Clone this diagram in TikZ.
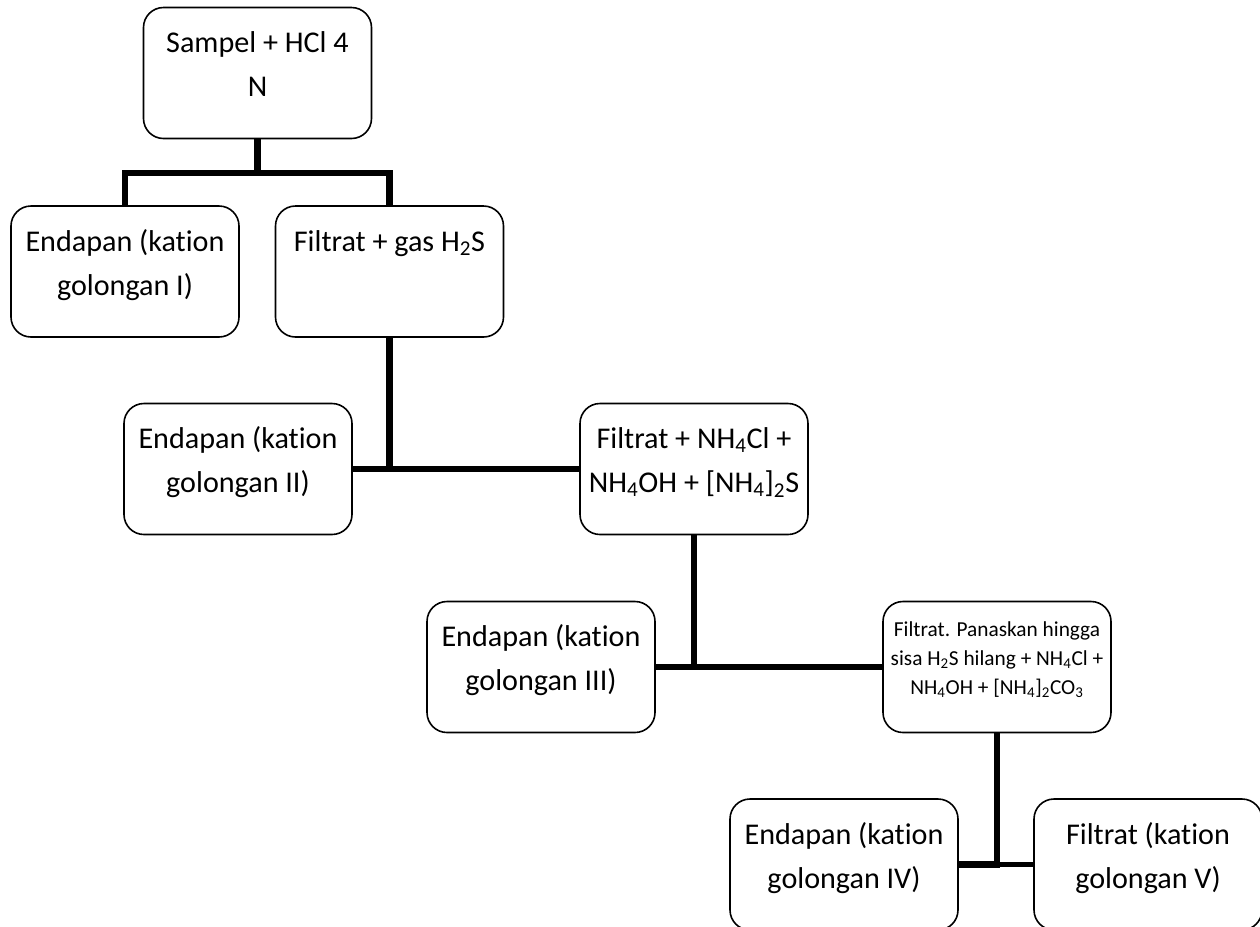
\documentclass[tikz,border=0pt]{standalone}
\usepackage{fontspec}
\setmainfont{Carlito}[Ligatures=NoCommon]
\usetikzlibrary{positioning}
\newcommand\boxtext[2][34pt]{\parbox[c][98.25pt][t]{171pt}{\centering\rule{0pt}{#1}#2}}
\tikzset{
  stagebox/.style={draw, line width=1.2pt, rounded corners=15pt, inner sep=0pt,
    font=\fontsize{22.6}{33}\selectfont},
  smallbox/.style={stagebox, font=\fontsize{16}{21.75}\selectfont},
  link/.style={line width=4.8pt, line join=miter}
}
\begin{document}
\begin{tikzpicture}[x=0.75pt, y=-0.75pt]
    \useasboundingbox (0,0) rectangle (1260,926);
    \clip (0,0) rectangle (1260,926);
    % stages
    \node[stagebox] (sampel) at (257.5,73) {\boxtext[33.5pt]{Sampel + HCl 4\\N}};
    \node[stagebox] (endI) at (125,271.5) {\boxtext{Endapan (kation\\golongan I)}};
    \node[stagebox] (filtH) at (389.5,271.5) {\boxtext{Filtrat + gas H\textsubscript{2}S}};
    \node[stagebox] (endII) at (238,469) {\boxtext{Endapan (kation\\golongan II)}};
    \node[stagebox] (filtNH) at (694,469) {\boxtext{Filtrat + NH\textsubscript{4}Cl +\\NH\textsubscript{4}OH + [NH\textsubscript{4}]\textsubscript{2}S}};
    \node[stagebox] (endIII) at (541,667) {\boxtext{Endapan (kation\\golongan III)}};
    \node[smallbox] (filtCO) at (997,667) {\boxtext[26pt]{Filtrat. Panaskan hingga\\sisa H\textsubscript{2}S hilang + NH\textsubscript{4}Cl +\\NH\textsubscript{4}OH + [NH\textsubscript{4}]\textsubscript{2}CO\textsubscript{3}}};
    \node[stagebox] (endIV) at (844,864.5) {\boxtext{Endapan (kation\\golongan IV)}};
    \node[stagebox] (filtV) at (1148,864.5) {\boxtext{Filtrat (kation\\golongan V)}};
    % connectors
    \coordinate (j1) at (257.5,173);
    \draw[link] (sampel.south) -- (j1);
    \draw[link] (endI.north) |- (j1) -| (filtH.north);
    \draw[link] (filtH.south) |- (endII.east);
    \draw[link] (endII.east) -- (filtNH.west);
    \draw[link] (filtNH.south) |- (endIII.east);
    \draw[link] (endIII.east) -- (filtCO.west);
    \draw[link] (filtCO.south) |- (endIV.east);
    \draw[link, line width=3.6pt] (filtCO.south |- filtV.west) -- (filtV.west);
\end{tikzpicture}
\end{document}
